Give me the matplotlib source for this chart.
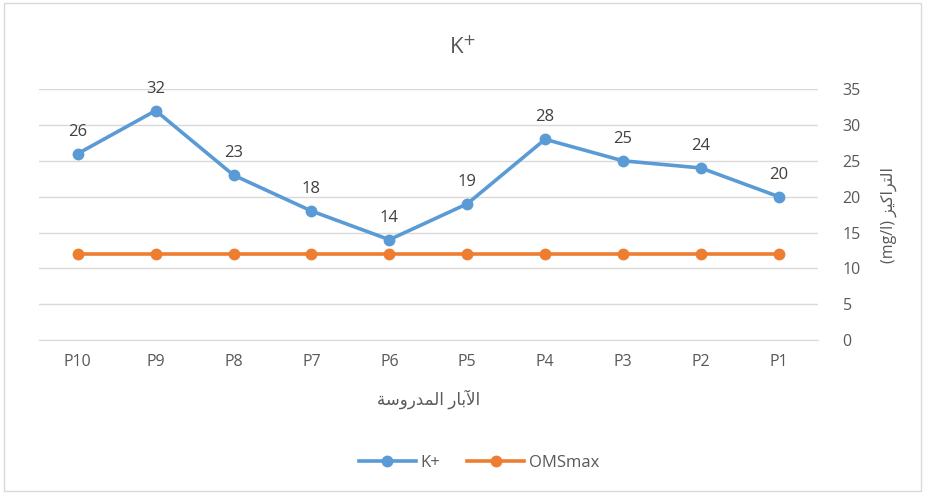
import matplotlib.pyplot as plt
from matplotlib.patches import Rectangle

wells = ['P10', 'P9', 'P8', 'P7', 'P6', 'P5', 'P4', 'P3', 'P2', 'P1']
k_plus = [26, 32, 23, 18, 14, 19, 28, 25, 24, 20]
oms_max = [12, 12, 12, 12, 12, 12, 12, 12, 12, 12]

# arabic text in visual order (presentation forms, since matplotlib has no shaping)
xlabel = '\ufe94\ufeb3\ufeed\ufead\ufeaa\ufee4\ufedf\ufe8d \ufead\ufe8e\ufe91\ufef5\ufe8d'
ylabel = '(mg/l) \ufeb0\ufef4\ufedb\ufe8d\ufeae\ufe98\ufedf\ufe8d'

fams = ['Open Sans', 'DejaVu Sans']
plt.rcParams['font.family'] = fams
grey = '#595959'

fig = plt.figure(figsize=(9.25, 4.95), dpi=100)
fig.patches.append(Rectangle((0.004, 0.008), 0.992, 0.985, transform=fig.transFigure,
                             fill=False, edgecolor='#D9D9D9', linewidth=1))
ax = fig.add_axes([0.042, 0.313, 0.842, 0.507])

x = range(len(wells))
ax.plot(x, k_plus, color='#5B9BD5', lw=2.6, marker='o', ms=7.5, label='K+', zorder=3)
ax.plot(x, oms_max, color='#ED7D31', lw=2.6, marker='o', ms=7.5, label='OMSmax', zorder=3)

for i, v in enumerate(k_plus):
    ax.annotate(str(v), (i, v), xytext=(0, 10), textcoords='offset points',
                ha='center', va='bottom', fontsize=12, color='#404040')

ax.set_xlim(-0.5, len(wells) - 0.5)
ax.set_ylim(0, 35)
ax.set_yticks(range(0, 36, 5))
ax.set_xticks(list(x))
ax.set_xticklabels(wells)
ax.yaxis.tick_right()
ax.tick_params(axis='both', length=0, labelsize=11.5, labelcolor=grey)
ax.tick_params(axis='y', pad=18)
ax.tick_params(axis='x', pad=10)
ax.grid(axis='y', color='#D9D9D9', lw=1)
ax.set_axisbelow(True)
for s in ['top', 'left', 'right']:
    ax.spines[s].set_visible(False)
ax.spines['bottom'].set_color('#D9D9D9')

fig.text(0.5, 0.905, 'K$^{+}$', fontsize=16, color=grey, ha='center', va='center')
ax.set_xlabel(xlabel, fontsize=12, color=grey, labelpad=14, family=fams)
ax.yaxis.set_label_position('right')
ax.set_ylabel(ylabel, fontsize=11.5, color=grey, rotation=90, labelpad=14, family=fams)

fig.legend(loc='center', bbox_to_anchor=(0.518, 0.065), ncol=2, frameon=False,
           fontsize=12, labelcolor=grey, handlelength=3.4, handletextpad=0.3,
           columnspacing=1.6)

fig.savefig('out.png', dpi=100)
